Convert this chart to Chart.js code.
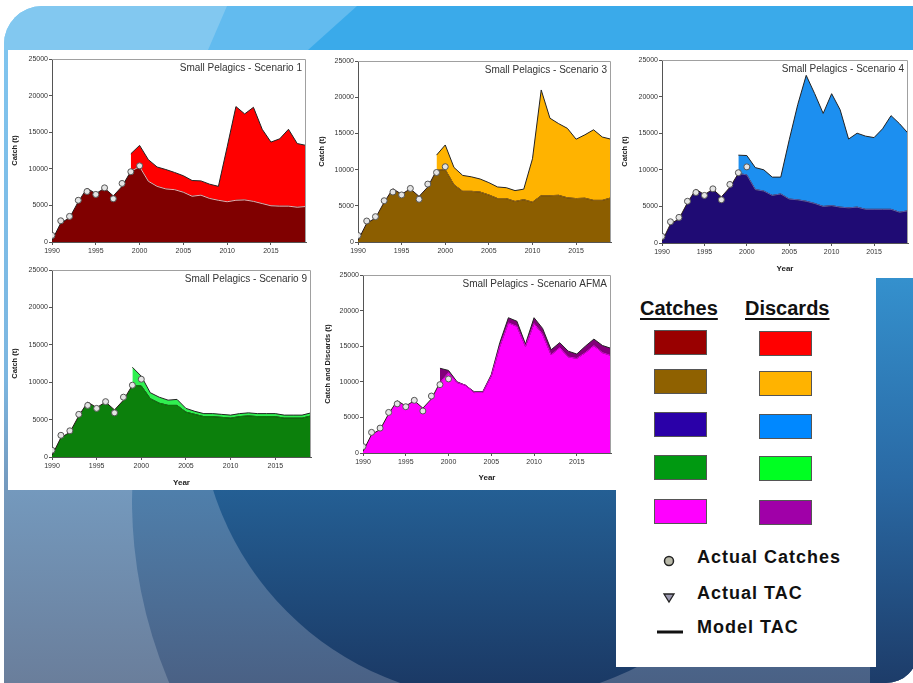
<!DOCTYPE html>
<html>
<head>
<meta charset="utf-8">
<script src="https://cdn.jsdelivr.net/npm/chart.js@4.4.1/dist/chart.umd.min.js"></script>
<style>
  html, body { margin: 0; padding: 0; background: #fff; }
  body { width: 913px; height: 683px; position: relative; overflow: hidden; font-family: "Liberation Sans", Arial, sans-serif; }
  #slide { position: absolute; left: 4px; top: 6px; width: 914px; height: 677px; border-radius: 38px 0 32px 0; overflow: hidden;
    background: linear-gradient(to bottom, #80c6f0 0%, #7cb6e0 55%, #7499bd 71.5%, #6a7e9b 100%); }
  .band { position: absolute; left: 0; top: 0; width: 914px; height: 44px; }
  #band1 { background: #82c8f0; }
  #band2 { background: #62bbef; clip-path: polygon(223px 0, 914px 0, 914px 44px, 204px 44px); }
  #band3 { background: #3aaaea; clip-path: polygon(353px 0, 914px 0, 914px 44px, 304px 44px); }
  .circle { position: absolute; border-radius: 50%; }
  #circle1 { left: 128px; top: 26px; width: 936px; height: 936px;
    background: linear-gradient(to bottom, #5a90c0 0%, #4f7fab 49%, #4a6185 69.5%, #48587a 100%); }
  #circle2 { left: 195px; top: 92px; width: 602px; height: 602px;
    background: linear-gradient(to bottom, #2d72ab 0%, #245f94 65%, #1b3a66 97%); }
  #strip { position: absolute; left: 866px; top: 264px; width: 48px; height: 413px;
    background: linear-gradient(to bottom, #3592cf 0%, #2a6aa5 50%, #1d3c69 100%); }
  .white { position: absolute; background: #fff; }
  canvas { position: absolute; }
  .head { position: absolute; font-weight: bold; font-size: 20px; line-height: 24px; color: #111;
    text-decoration: underline; text-decoration-thickness: 2px; text-underline-offset: 3px; }
  .sw { position: absolute; width: 53px; height: 25px; box-sizing: border-box; border: 1px solid #555; }
  .item { position: absolute; left: 697px; font-weight: bold; font-size: 18px; line-height: 22px; letter-spacing: 1px; color: #111; }
</style>
</head>
<body>
<div id="slide">
  <div id="circle1" class="circle"></div>
  <div id="circle2" class="circle"></div>
  <div id="strip"></div>
  <div id="band1" class="band"></div>
  <div id="band2" class="band"></div>
  <div id="band3" class="band"></div>
</div>
<div class="white" style="left:8px;top:50px;width:905px;height:228px"></div>
<div class="white" style="left:8px;top:278px;width:608px;height:212px"></div>
<div class="white" style="left:616px;top:278px;width:260px;height:389px"></div>

<canvas id="c1" width="305" height="215" style="left:8px;top:50px"></canvas>
<canvas id="c3" width="300" height="215" style="left:316px;top:50px"></canvas>
<canvas id="c4" width="297" height="228" style="left:616px;top:50px"></canvas>
<canvas id="c9" width="308" height="228" style="left:8px;top:262px"></canvas>
<canvas id="ca" width="300" height="228" style="left:316px;top:262px"></canvas>

<div id="legend"></div>

<script>
'use strict'

// years and axes
const years = [1990, 1991, 1992, 1993, 1994, 1995, 1996, 1997, 1998, 1999,
  2000, 2001, 2002, 2003, 2004, 2005, 2006, 2007, 2008, 2009,
  2010, 2011, 2012, 2013, 2014, 2015, 2016, 2017, 2018, 2019]
const xTicks = [1990, 1995, 2000, 2005, 2010, 2015]
const yTicks = [0, 5000, 10000, 15000, 20000, 25000]

// observed catches (points)
const actualYears = [1990, 1991, 1992, 1993, 1994, 1995, 1996, 1997, 1998, 1999, 2000]
const actualCatches = [900, 2900, 3500, 5700, 6900, 6500, 7400, 5900, 8000, 9600, 10400]

// model catch 1990-1998, shared by every scenario
const histCatch = [200, 2600, 3300, 5500, 7350, 6600, 7350, 6300, 7600]

// 1999-2019: catch, and catch + discards
const s1Catch = [9650, 10300, 8300, 7600, 7250, 7150, 6800, 6250, 6400, 5950, 5700, 5500, 5700, 5750, 5550, 5250, 4950, 4900, 4900, 4750, 4850]
const s1Total = [12050, 13200, 11250, 10250, 9900, 9500, 9050, 8400, 8350, 7900, 7600, 13000, 18500, 17500, 18400, 15400, 13650, 14100, 15400, 13450, 13200]

const s3Catch = [9900, 10000, 7900, 7000, 7000, 6900, 6500, 6000, 6000, 5600, 5850, 5500, 6400, 6400, 6450, 6100, 6000, 6050, 5750, 5750, 6100]
const s3Total = [12000, 13400, 10300, 9200, 9000, 8700, 8200, 7600, 7500, 7100, 7300, 11500, 21000, 17100, 16350, 15700, 14200, 14800, 15500, 14500, 14200]

const s4Catch = [9500, 9300, 7300, 7100, 6500, 6700, 6000, 5900, 5700, 5400, 5000, 5100, 4900, 4800, 4900, 4600, 4600, 4600, 4600, 4200, 4400]
const s4Total = [12000, 11950, 10300, 10000, 9000, 9000, 14100, 18900, 22900, 20400, 17700, 20400, 18200, 14200, 15000, 14600, 14400, 15600, 17400, 16300, 15000]

const s9Catch = [9600, 9500, 7800, 7200, 6900, 6900, 6000, 5700, 5400, 5400, 5300, 5200, 5400, 5500, 5400, 5400, 5400, 5200, 5200, 5200, 5500]
const s9Total = [12000, 10800, 8600, 8000, 7600, 7700, 6500, 6100, 5800, 5800, 5700, 5600, 5800, 5900, 5800, 5800, 5800, 5600, 5600, 5600, 5900]

const afmaCatch = [9900, 11300, 9900, 9500, 8500, 8500, 10800, 15000, 18300, 17800, 15000, 18200, 16700, 13800, 14800, 13500, 13300, 14100, 15100, 14100, 13700]
const afmaTotal = [11900, 11600, 10000, 9500, 8600, 8600, 11000, 15500, 19000, 18500, 15300, 19000, 17500, 14500, 15500, 14300, 13900, 15000, 16000, 15100, 14700]

// legend
const catchColors = ['#990000', '#8f6100', '#2a00a8', '#009911', '#ff00ff']
const discardColors = ['#ff0000', '#ffb300', '#0088ff', '#00ff22', '#a000a8']
const legendItems = ['Actual Catches', 'Actual TAC', 'Model TAC']


Chart.defaults.font.family = '"Liberation Sans", Arial, sans-serif'
Chart.defaults.animation = false

function catchSeries (proj) {
  return histCatch.concat(proj).map((v, i) => ({x: years[i], y: v}))
}

// projection years only, nulls before 1999
function projSeries (proj) {
  const n = histCatch.length
  return years.map((yr, i) => ({x: yr, y: i < n ? null : proj[i - n]}))
}

const framePlugin = {
  id: 'frame',
  afterDraw (chart, args, opts) {
    const {ctx, chartArea: a} = chart
    ctx.save()
    ctx.strokeStyle = '#a0a0a0'
    ctx.lineWidth = 1
    ctx.beginPath()
    ctx.moveTo(a.left, a.top + 0.5)
    ctx.lineTo(a.right - 0.5, a.top + 0.5)
    ctx.lineTo(a.right - 0.5, a.bottom)
    ctx.stroke()
    ctx.font = '10px "Liberation Sans", Arial, sans-serif'
    ctx.fillStyle = '#333'
    ctx.textAlign = 'right'
    ctx.textBaseline = 'middle'
    ctx.fillText(opts.text, a.right - 4, a.top + 9)
    ctx.restore()
  }
}

function drawPanel (p) {
  const ctx = document.getElementById(p.id).getContext('2d')
  return new Chart(ctx, {
    type: 'line',
    data: {
      datasets: [{
        label: 'Catch',
        data: catchSeries(p.catches),
        backgroundColor: p.catchColor,
        borderColor: '#2a1a1a',
        borderWidth: 1,
        fill: 'origin',
        pointRadius: 0,
        tension: 0,
        order: 2
      }, {
        label: 'Discards',
        data: projSeries(p.totals),
        backgroundColor: p.discardColor,
        borderColor: '#222',
        borderWidth: 1,
        fill: 0,
        pointRadius: 0,
        tension: 0,
        order: 3
      }, {
        label: 'Catch edge',
        data: projSeries(p.catches),
        borderColor: p.edge,
        borderWidth: 1,
        fill: false,
        pointRadius: 0,
        tension: 0,
        order: 1
      }, {
        label: 'Actual Catches',
        data: actualYears.map((yr, i) => ({x: yr, y: actualCatches[i]})),
        showLine: false,
        pointRadius: 3,
        pointBackgroundColor: '#e4e4e4',
        pointBorderColor: '#555',
        pointBorderWidth: 1,
        order: 0
      }]
    },
    options: {
      responsive: false,
      devicePixelRatio: 1,
      layout: {padding: {left: 0, top: p.padTop, right: p.padRight, bottom: 0}},
      plugins: {
        legend: {display: false},
        tooltip: {enabled: false},
        frame: {text: p.title}
      },
      scales: {
        x: {
          type: 'linear',
          min: 1990,
          max: 2019,
          afterBuildTicks: s => { s.ticks = xTicks.map(v => ({value: v})) },
          afterFit: s => { s.height = p.xH },
          grid: {drawOnChartArea: false, color: '#555', tickLength: 3},
          border: {color: '#555'},
          ticks: {font: {size: 7}, color: '#333', padding: 2, maxRotation: 0, callback: v => String(v)},
          title: {
            display: p.showYear,
            text: 'Year',
            font: {size: 8, weight: 'bold'},
            color: '#222',
            padding: {top: 0, bottom: p.yearPad}
          }
        },
        y: {
          min: 0,
          max: 25000,
          afterBuildTicks: s => { s.ticks = yTicks.map(v => ({value: v})) },
          afterFit: s => { s.width = p.yW },
          grid: {drawOnChartArea: false, color: '#555', tickLength: 3},
          border: {color: '#555'},
          ticks: {font: {size: 7}, color: '#333', padding: 1, callback: v => String(v)},
          title: {
            display: true,
            text: p.yLabel,
            font: {size: 7.5, weight: 'bold'},
            color: '#222',
            padding: {top: p.yTitlePad, bottom: 0}
          }
        }
      }
    },
    plugins: [framePlugin]
  })
}

const panels = [
  {id: 'c1', title: 'Small Pelagics - Scenario 1', catches: s1Catch, totals: s1Total,
    catchColor: '#800000', discardColor: '#ff0000', edge: '#f2a8a8',
    yLabel: 'Catch (t)', showYear: false, yW: 44, xH: 23, padTop: 9, padRight: 7, yTitlePad: 2.5, yearPad: 0},
  {id: 'c3', title: 'Small Pelagics - Scenario 3', catches: s3Catch, totals: s3Total,
    catchColor: '#8c5e00', discardColor: '#ffb300', edge: '#9a6a10',
    yLabel: 'Catch (t)', showYear: false, yW: 42, xH: 23, padTop: 11, padRight: 4, yTitlePad: 1.5, yearPad: 0},
  {id: 'c4', title: 'Small Pelagics - Scenario 4', catches: s4Catch, totals: s4Total,
    catchColor: '#1f0b74', discardColor: '#1c8ff0', edge: '#5a5ab0',
    yLabel: 'Catch (t)', showYear: true, yW: 46, xH: 35, padTop: 10, padRight: 0, yTitlePad: 4.5, yearPad: 4},
  {id: 'c9', title: 'Small Pelagics - Scenario 9', catches: s9Catch, totals: s9Total,
    catchColor: '#0c800c', discardColor: '#30f050', edge: '#0c800c',
    yLabel: 'Catch (t)', showYear: true, yW: 44, xH: 33, padTop: 8, padRight: 4, yTitlePad: 2.5, yearPad: 2},
  {id: 'ca', title: 'Small Pelagics - Scenario AFMA', catches: afmaCatch, totals: afmaTotal,
    catchColor: '#ff00ff', discardColor: '#82007a', edge: '#e000e0',
    yLabel: 'Catch and Discards (t)', showYear: true, yW: 47, xH: 37, padTop: 13, padRight: 4, yTitlePad: 7.5, yearPad: 7}
]

panels.forEach(drawPanel)


// legend panel
function renderLegend () {
  const catchTops = [330, 369, 412, 455, 499]
  const discardTops = [331, 371, 414, 456, 500]
  let out = '<div class="head" style="left:640px;top:296px">Catches</div>'
  out += '<div class="head" style="left:745px;top:296px">Discards</div>'
  catchColors.forEach((c, i) => {
    out += '<div class="sw" style="left:654px;top:' + catchTops[i] + 'px;background:' + c + '"></div>'
  })
  discardColors.forEach((c, i) => {
    out += '<div class="sw" style="left:759px;top:' + discardTops[i] + 'px;background:' + c + '"></div>'
  })
  const itemTops = [546, 582, 616]
  legendItems.forEach((t, i) => {
    out += '<div class="item" style="top:' + itemTops[i] + 'px">' + t + '</div>'
  })
  out += '<svg style="position:absolute;left:650px;top:550px" width="40" height="90">' +
    '<circle cx="19" cy="11" r="4.5" fill="#b8b8a8" stroke="#222" stroke-width="1.5"/>' +
    '<polygon points="14,44 24,44 19,52" fill="#9a98b0" stroke="#222" stroke-width="1.3"/>' +
    '<line x1="7" y1="82" x2="33" y2="82" stroke="#111" stroke-width="3"/>' +
    '</svg>'
  document.getElementById('legend').innerHTML = out
}

renderLegend()
</script>
</body>
</html>
